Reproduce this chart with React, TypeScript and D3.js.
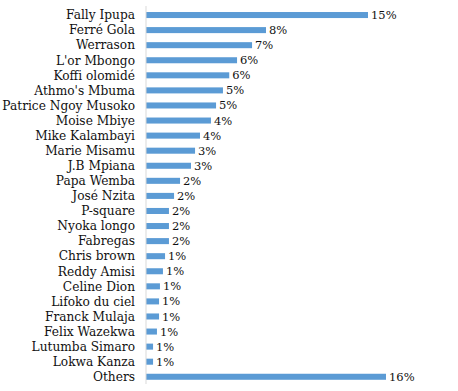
import React from "react";
import * as d3 from "d3";

const artists = [
  "Fally Ipupa", "Ferré Gola", "Werrason", "L'or Mbongo", "Koffi olomidé",
  "Athmo's Mbuma", "Patrice Ngoy Musoko", "Moise Mbiye", "Mike Kalambayi",
  "Marie Misamu", "J.B Mpiana", "Papa Wemba", "José Nzita", "P-square",
  "Nyoka longo", "Fabregas", "Chris brown", "Reddy Amisi", "Celine Dion",
  "Lifoko du ciel", "Franck Mulaja", "Felix Wazekwa", "Lutumba Simaro",
  "Lokwa Kanza", "Others",
];
const shares = [
  14.8, 8.0, 7.07, 6.07, 5.55, 5.13, 4.67, 4.33, 3.6, 3.27, 3.0, 2.27, 1.87,
  1.53, 1.53, 1.53, 1.27, 1.13, 0.93, 0.87, 0.87, 0.73, 0.47, 0.47, 16.0,
];
const shareLabels = [
  "15%", "8%", "7%", "6%", "6%", "5%", "5%", "4%", "4%", "3%", "3%", "2%",
  "2%", "2%", "2%", "2%", "1%", "1%", "1%", "1%", "1%", "1%", "1%", "1%", "16%",
];

const W = 458;
const H = 391;
const left = 146;
const font = "'DejaVu Serif', serif";

const App = () => {
  const x = d3.scaleLinear().domain([0, 16]).range([left, left + 240]);
  const y = d3
    .scaleBand()
    .domain(artists)
    .range([7.5, 384.3])
    .paddingInner(0.6)
    .paddingOuter(0.3);

  return (
    <svg
      width={W}
      height={H}
      style={{ position: "absolute", left: 0, top: 0, background: "#fff" }}
    >
      {artists.map((a, i) => {
        const yc = (y(a) as number) + y.bandwidth() / 2;
        return (
          <g key={a}>
            <rect
              x={x(0)}
              y={y(a)}
              width={x(shares[i]) - x(0)}
              height={y.bandwidth()}
              fill="#5b9bd5"
            />
            <text
              x={left - 11}
              y={yc}
              dy="0.35em"
              textAnchor="end"
              fontFamily={font}
              fontSize={12.2}
              fill="#111"
            >
              {a}
            </text>
            <text
              x={x(shares[i]) + 3}
              y={yc}
              dy="0.35em"
              fontFamily={font}
              fontSize={11.5}
              fill="#111"
            >
              {shareLabels[i]}
            </text>
          </g>
        );
      })}
      <line x1={left} x2={left} y1={6} y2={384} stroke="#d9d9d9" strokeWidth={1} />
    </svg>
  );
};

export default App;
